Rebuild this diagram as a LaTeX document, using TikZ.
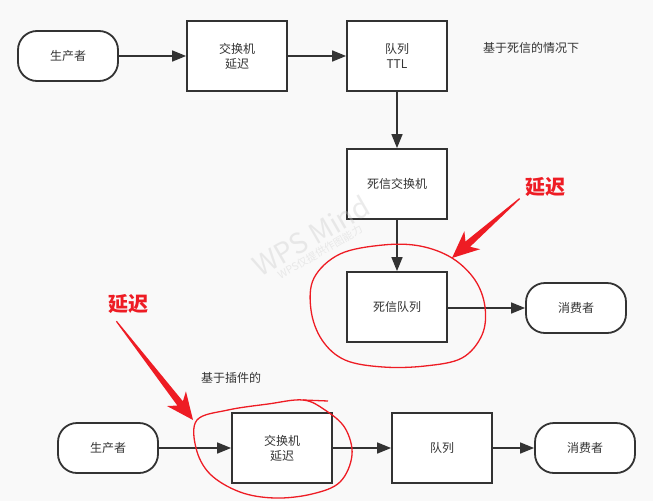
\documentclass[tikz,border=0pt]{standalone}
\usepackage{fontspec}
\setmainfont{Noto Sans CJK SC}
\newfontfamily\cjk{Noto Sans CJK SC}
\usetikzlibrary{arrows.meta}
\definecolor{ink}{HTML}{333333}
\definecolor{bg}{HTML}{F9F9F9}
\definecolor{mark}{HTML}{EE1C24}
\definecolor{wm}{HTML}{C8C8C8}
\tikzset{
  base/.style={draw=ink, line width=1.8pt, fill=white, text=ink, font=\cjk\fontsize{12}{15}\selectfont, align=center, inner sep=0pt},
  boxnode/.style={base, minimum width=100pt, minimum height=70pt},
  termnode/.style={base, rounded corners=19pt, minimum width=100pt, minimum height=50pt},
  plain/.style={text=ink, font=\cjk\fontsize{12}{15}\selectfont, inner sep=0pt},
  arr/.style={draw=ink, line width=1.6pt, -{Triangle[length=14pt,width=11pt]}},
  redtxt/.style={text=mark, font=\cjk\bfseries\fontsize{20}{24}\selectfont, inner sep=0pt},
  redring/.style={draw=mark, line width=1.3pt},
  wedge/.style={fill=mark, draw=none},
  wmark/.style={text=wm, text opacity=0.35, rotate=30, inner sep=0pt}
}
\begin{document}
\begin{tikzpicture}[x=1pt,y=-1pt]
\fill[bg] (0,0) rectangle (653,501);
\useasboundingbox (0,0) rectangle (653,501);

% top flow
\node[termnode] (p1) at (68,56) {生产者};
\node[boxnode] (e1) at (237,56) {交换机\\延迟};
\node[boxnode] (q1) at (397,56) {队列\\TTL};
\node[plain] (t1) at (531,48) {基于死信的情况下};
\node[boxnode] (dlx) at (397,184) {死信交换机};
\node[boxnode] (dlq) at (397,307) {死信队列};
\node[termnode] (c1) at (576,308) {消费者};

\draw[arr] (p1) -- (e1);
\draw[arr] (e1) -- (q1);
\draw[arr] (q1) -- (dlx);
\draw[arr] (dlx) -- (dlq);
\draw[arr] (dlq.east |- c1) -- (c1);

% bottom flow
\node[plain] (t2) at (231,378) {基于插件的};
\node[termnode] (p2) at (108,448) {生产者};
\node[boxnode] (e2) at (282,448) {交换机\\延迟};
\node[boxnode] (q2) at (442,448) {队列};
\node[termnode] (c2) at (585,448) {消费者};

\draw[arr] (p2) -- (e2);
\draw[arr] (e2) -- (q2);
\draw[arr] (q2) -- (c2);

% red annotations (top)
\node[redtxt] (r1) at (545,187) {延迟};
\draw[redring] plot[smooth cycle, tension=0.6] coordinates {
  (452,258) (420,246) (383,245) (340,254) (314,278) (311,310) (322,340)
  (345,360) (383,367) (425,366) (462,358) (482,335) (485,307) (475,280)};
\begin{scope}[shift={(452,258)}, rotate=221.3]
  \fill[wedge] (0,0) -- (-27,-12) -- (-21,-3.5) -- (-90,-0.6) -- (-90,0.6) -- (-21,3.5) -- (-27,12) -- cycle;
\end{scope}

% red annotations (bottom)
\node[redtxt] (r2) at (128,304) {延迟};
\draw[redring] plot[smooth cycle, tension=0.6] coordinates {
  (197,420) (196,448) (210,474) (240,492) (275,498) (312,494) (340,482)
  (352,455) (345,428) (325,410) (303,400) (268,404) (228,410)};
\draw[redring] (303,400) -- (328,401);
\begin{scope}[shift={(193,420)}, rotate=-52.2]
  \fill[wedge] (0,0) -- (-27,-12) -- (-21,-3.5) -- (-125,-0.6) -- (-125,0.6) -- (-21,3.5) -- (-27,12) -- cycle;
\end{scope}

% watermark
\node[wmark, font=\cjk\fontsize{28}{30}\selectfont] (wm1) at (311,236) {WPS Mind};
\node[wmark, font=\cjk\fontsize{10.5}{12}\selectfont] (wm2) at (320,252) {WPS仅提供作图能力};
\end{tikzpicture}
\end{document}
